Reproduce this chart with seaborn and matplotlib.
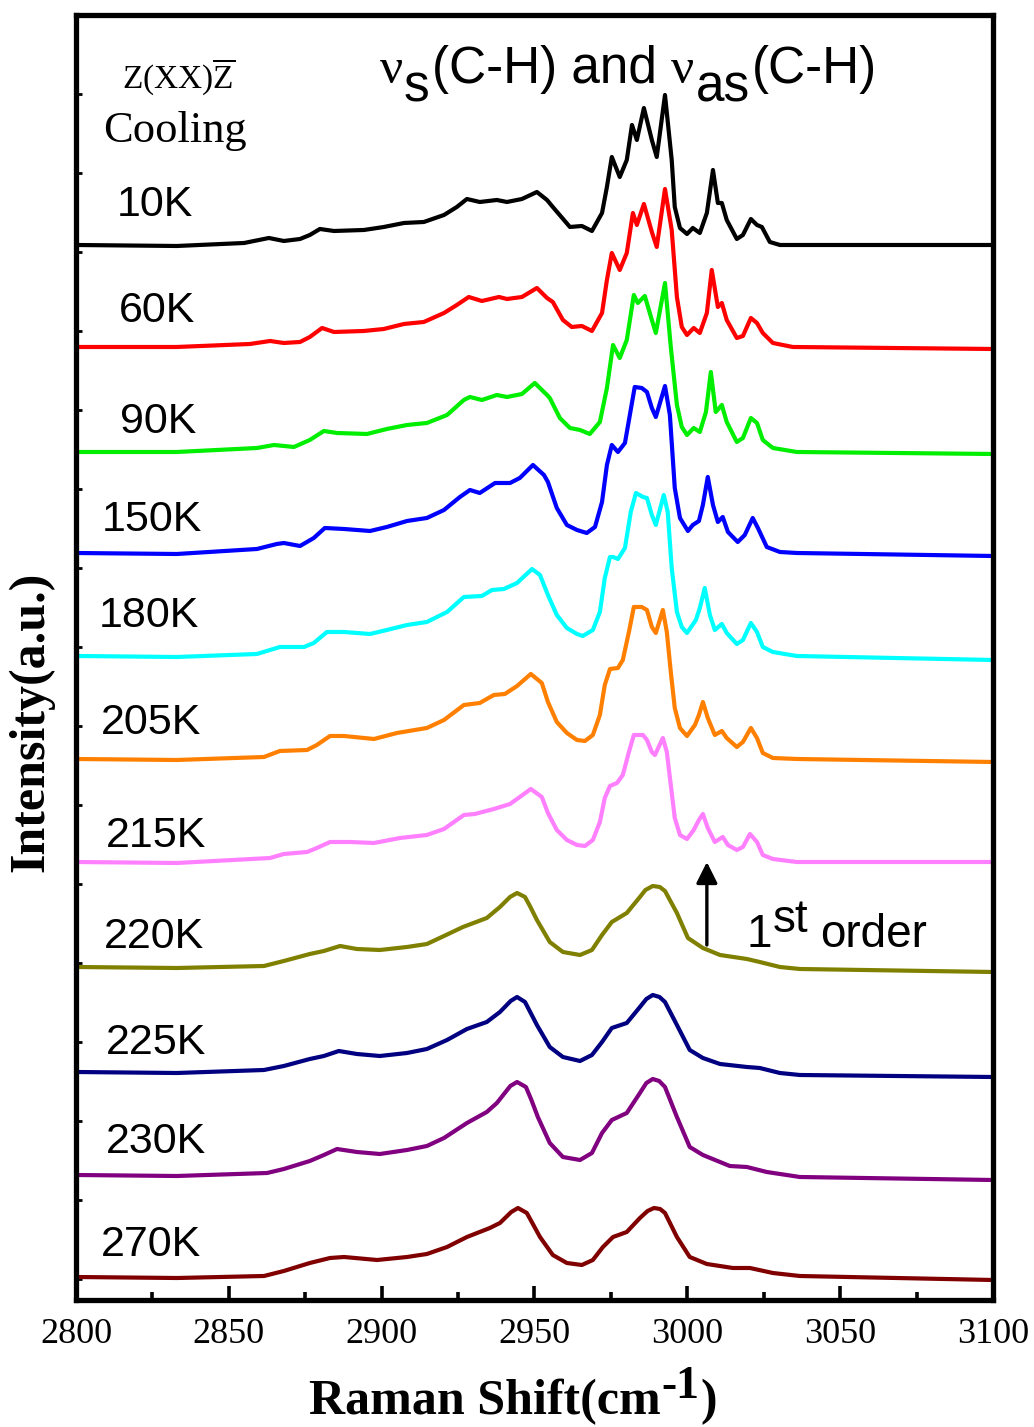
import matplotlib
matplotlib.use("Agg")
import matplotlib.pyplot as plt
import matplotlib.transforms as mtransforms
from matplotlib.figure import Figure
from matplotlib.ticker import MultipleLocator
import numpy as np
import pandas as pd
import seaborn as sns

# ---------------------------------------------------------------- data
TEMPS = ["10K", "60K", "90K", "150K", "180K", "205K", "215K",
         "220K", "225K", "230K", "270K"]
COLORS = ["#000000", "#ff0000", "#00ee00", "#0000ff", "#00ffff", "#ff8000",
          "#ff80ff", "#808000", "#000080", "#800080", "#800000"]
# vertical offsets used to stack the spectra (a.u.)
OFFSETS = [10.57, 9.53, 8.48, 7.47, 6.44, 5.41, 4.38, 3.33, 2.28, 1.25, 0.23]

SHIFT_10K = [2800, 2833, 2855, 2863.1, 2868.0, 2873.3, 2876.5, 2879.8, 2884.4, 2894.2,
             2900.7, 2907.3, 2913.8, 2920.4, 2924.6, 2927.9, 2932.1, 2937.7, 2941.0, 2945.9,
             2950.8, 2954.1, 2956.0, 2961.6, 2965.5, 2968.8, 2972.1, 2973.7, 2975.3, 2977.9,
             2980.2, 2981.9, 2983.5, 2985.8, 2988.4, 2990.0, 2992.7, 2994.9, 2995.9, 2997.6,
             2999.9, 3001.8, 3004.1, 3006.4, 3008.4, 3010.0, 3011.3, 3012.9, 3016.2, 3018.2,
             3020.8, 3022.8, 3024.4, 3027.0, 3030.3, 3060, 3100]
INT_10K = [-0.02, -0.03, 0.00, 0.05, 0.02, 0.04, 0.08, 0.14, 0.12, 0.13,
           0.16, 0.20, 0.21, 0.28, 0.36, 0.44, 0.41, 0.43, 0.41, 0.44,
           0.51, 0.43, 0.36, 0.16, 0.17, 0.12, 0.30, 0.56, 0.86, 0.66,
           0.83, 1.18, 1.03, 1.35, 1.03, 0.86, 1.48, 0.83, 0.36, 0.15,
           0.09, 0.15, 0.10, 0.30, 0.73, 0.40, 0.40, 0.23, 0.04, 0.08,
           0.24, 0.18, 0.16, 0.01, -0.02, -0.02, -0.02]

SHIFT_60K = [2800, 2833, 2856.9, 2863.5, 2868.0, 2873.3, 2876.5, 2880.5, 2884.4, 2894.2,
             2900.7, 2907.3, 2913.8, 2920.4, 2924.6, 2928.5, 2932.8, 2938.4, 2941.0, 2945.9,
             2950.8, 2954.1, 2956.0, 2959.3, 2962.2, 2965.5, 2968.8, 2972.1, 2973.7, 2975.3,
             2977.9, 2980.2, 2982.2, 2983.5, 2985.8, 2988.4, 2990.0, 2992.7, 2994.9, 2996.6,
             2998.2, 2999.9, 3002.1, 3004.1, 3006.4, 3008.0, 3010.0, 3011.3, 3012.9, 3016.2,
             3018.2, 3020.8, 3022.8, 3024.7, 3028.0, 3034.5, 3100]
INT_60K = [0.00, 0.00, 0.03, 0.06, 0.04, 0.05, 0.10, 0.19, 0.15, 0.16,
           0.18, 0.23, 0.25, 0.34, 0.42, 0.50, 0.46, 0.50, 0.48, 0.50,
           0.59, 0.49, 0.45, 0.27, 0.20, 0.21, 0.16, 0.34, 0.67, 0.94,
           0.77, 0.94, 1.34, 1.22, 1.43, 1.15, 1.00, 1.58, 1.17, 0.50,
           0.20, 0.12, 0.19, 0.14, 0.34, 0.77, 0.40, 0.44, 0.27, 0.09,
           0.11, 0.29, 0.24, 0.14, 0.04, 0.00, -0.02]

SHIFT_90K = [2800, 2833, 2859.2, 2864.8, 2871.3, 2876.5, 2881.1, 2885.4, 2895.2, 2901.7,
             2908.3, 2914.8, 2921.4, 2926.9, 2928.9, 2932.8, 2937.7, 2941.0, 2945.9, 2950.1,
             2954.1, 2955.0, 2958.3, 2961.6, 2964.9, 2968.1, 2971.4, 2973.7, 2975.7, 2977.9,
             2980.2, 2982.5, 2983.8, 2986.1, 2988.4, 2989.7, 2992.7, 2994.6, 2996.6, 2998.2,
             2999.9, 3002.1, 3004.1, 3006.1, 3007.7, 3009.3, 3011.3, 3012.9, 3016.2, 3018.2,
             3020.8, 3022.8, 3024.7, 3028.0, 3035.8, 3100]
INT_90K = [0.00, 0.00, 0.04, 0.07, 0.05, 0.12, 0.21, 0.19, 0.18, 0.23,
           0.27, 0.29, 0.37, 0.52, 0.55, 0.52, 0.57, 0.55, 0.58, 0.69,
           0.57, 0.54, 0.34, 0.24, 0.22, 0.18, 0.30, 0.64, 1.07, 0.94,
           1.12, 1.57, 1.49, 1.56, 1.32, 1.19, 1.69, 1.05, 0.47, 0.25,
           0.17, 0.24, 0.20, 0.40, 0.80, 0.40, 0.47, 0.30, 0.10, 0.14,
           0.34, 0.29, 0.12, 0.04, 0.00, -0.02]

SHIFT_150K = [2800, 2833, 2859.2, 2865.7, 2868.0, 2873.3, 2877.8, 2881.4, 2887.7, 2896.2,
              2901.7, 2908.3, 2914.8, 2920.4, 2925.6, 2928.9, 2932.1, 2937.1, 2942.0, 2945.2,
              2949.5, 2953.1, 2954.4, 2957.3, 2960.6, 2963.9, 2967.1, 2969.8, 2972.1, 2973.7,
              2975.3, 2977.3, 2979.6, 2981.2, 2982.8, 2985.1, 2986.8, 2988.4, 2989.7, 2992.7,
              2994.3, 2995.9, 2997.6, 3000.2, 3001.8, 3003.8, 3005.1, 3006.7, 3008.4, 3010.0,
              3011.6, 3013.3, 3016.5, 3018.8, 3021.4, 3023.1, 3026.0, 3030.3, 3035.8, 3100]
INT_150K = [0.00, -0.01, 0.04, 0.09, 0.10, 0.07, 0.15, 0.25, 0.24, 0.22,
            0.26, 0.32, 0.35, 0.43, 0.56, 0.63, 0.60, 0.70, 0.70, 0.75,
            0.88, 0.78, 0.71, 0.45, 0.28, 0.23, 0.20, 0.26, 0.51, 0.88,
            1.08, 1.01, 1.10, 1.38, 1.66, 1.65, 1.61, 1.45, 1.36, 1.67,
            1.38, 0.65, 0.35, 0.22, 0.28, 0.32, 0.48, 0.76, 0.48, 0.31,
            0.36, 0.21, 0.11, 0.18, 0.35, 0.25, 0.06, 0.01, 0.00, -0.03]

SHIFT_180K = [2800, 2833, 2859.2, 2866.7, 2874.6, 2877.8, 2882.1, 2887.7, 2896.2, 2901.7,
              2908.3, 2914.8, 2921.4, 2926.9, 2932.8, 2936.1, 2940.0, 2944.3, 2949.2, 2951.8,
              2954.4, 2957.3, 2960.6, 2963.9, 2965.8, 2969.1, 2971.4, 2973.0, 2974.7, 2975.7,
              2977.3, 2979.6, 2981.5, 2983.2, 2985.5, 2986.8, 2988.4, 2989.7, 2992.3, 2993.6,
              2994.9, 2996.6, 2998.2, 2999.9, 3002.8, 3004.1, 3005.7, 3007.4, 3009.0, 3011.3,
              3012.9, 3016.2, 3018.2, 3020.8, 3022.8, 3024.7, 3028.0, 3035.8, 3100]
INT_180K = [0.00, -0.01, 0.02, 0.09, 0.09, 0.13, 0.24, 0.24, 0.22, 0.26,
            0.31, 0.34, 0.44, 0.59, 0.60, 0.66, 0.67, 0.73, 0.87, 0.81,
            0.61, 0.41, 0.28, 0.22, 0.20, 0.26, 0.44, 0.78, 0.99, 0.99,
            0.97, 1.08, 1.44, 1.63, 1.59, 1.58, 1.41, 1.31, 1.61, 1.44,
            0.88, 0.44, 0.29, 0.23, 0.36, 0.48, 0.68, 0.41, 0.26, 0.32,
            0.23, 0.12, 0.16, 0.33, 0.24, 0.09, 0.04, 0.00, -0.04]

SHIFT_205K = [2800, 2833, 2861.5, 2866.7, 2875.6, 2878.8, 2883.1, 2887.7, 2897.5, 2905.0,
              2914.8, 2920.4, 2926.9, 2932.1, 2936.7, 2940.3, 2944.3, 2948.8, 2952.4, 2954.4,
              2957.3, 2960.6, 2963.9, 2966.5, 2969.1, 2971.4, 2973.0, 2974.7, 2977.3, 2978.9,
              2980.9, 2982.5, 2985.1, 2986.8, 2988.4, 2989.7, 2992.0, 2993.3, 2994.6, 2995.9,
              2997.6, 2999.9, 3002.5, 3003.8, 3005.1, 3006.7, 3009.0, 3011.3, 3012.9, 3016.2,
              3018.2, 3020.8, 3022.8, 3024.7, 3028.0, 3035.8, 3100]
INT_205K = [0.00, -0.01, 0.02, 0.08, 0.09, 0.14, 0.23, 0.23, 0.20, 0.26,
            0.31, 0.39, 0.54, 0.56, 0.64, 0.65, 0.73, 0.85, 0.76, 0.57,
            0.37, 0.26, 0.19, 0.18, 0.24, 0.44, 0.74, 0.90, 0.91, 0.99,
            1.27, 1.52, 1.52, 1.49, 1.32, 1.26, 1.49, 1.27, 0.87, 0.51,
            0.31, 0.23, 0.34, 0.44, 0.57, 0.41, 0.24, 0.28, 0.21, 0.12,
            0.17, 0.31, 0.21, 0.06, 0.01, 0.00, -0.03]

SHIFT_215K = [2800, 2833, 2863.5, 2868.0, 2875.6, 2878.8, 2883.1, 2889.6, 2897.5, 2906.0,
              2914.8, 2920.4, 2926.9, 2930.5, 2936.7, 2942.0, 2945.2, 2948.8, 2952.4, 2954.4,
              2957.3, 2960.6, 2963.9, 2966.5, 2969.1, 2971.4, 2973.0, 2974.7, 2977.0, 2978.9,
              2980.9, 2982.5, 2985.5, 2986.8, 2988.4, 2989.4, 2992.0, 2993.3, 2994.6, 2995.9,
              2997.6, 2999.9, 3002.1, 3003.8, 3005.1, 3006.7, 3009.0, 3011.6, 3013.3, 3016.2,
              3018.2, 3020.5, 3022.8, 3024.7, 3028.0, 3035.8, 3100]
INT_215K = [0.00, -0.01, 0.04, 0.08, 0.10, 0.14, 0.20, 0.20, 0.19, 0.24,
            0.27, 0.33, 0.47, 0.48, 0.53, 0.58, 0.65, 0.73, 0.65, 0.49,
            0.32, 0.22, 0.17, 0.16, 0.22, 0.40, 0.64, 0.76, 0.79, 0.87,
            1.10, 1.27, 1.27, 1.22, 1.10, 1.07, 1.24, 1.10, 0.77, 0.44,
            0.27, 0.23, 0.32, 0.42, 0.48, 0.34, 0.20, 0.25, 0.17, 0.12,
            0.15, 0.28, 0.20, 0.07, 0.03, 0.00, 0.00]

SHIFT_220K = [2800, 2833, 2861.5, 2868.0, 2876.5, 2881.1, 2886.4, 2891.9, 2899.4, 2908.3,
              2914.8, 2920.4, 2926.6, 2934.4, 2938.7, 2942.0, 2944.3, 2946.9, 2948.5, 2950.8,
              2955.0, 2959.3, 2964.9, 2968.8, 2972.1, 2975.3, 2980.2, 2984.5, 2986.3, 2988.7,
              2991.0, 2992.7, 2996.6, 3000.2, 3005.1, 3010.7, 3019.5, 3023.7, 3030.3, 3036.8,
              3100]
INT_220K = [0.00, -0.01, 0.01, 0.06, 0.13, 0.16, 0.21, 0.18, 0.17, 0.20,
            0.23, 0.31, 0.40, 0.49, 0.60, 0.70, 0.74, 0.70, 0.61, 0.47,
            0.25, 0.15, 0.12, 0.17, 0.32, 0.45, 0.54, 0.70, 0.77, 0.81,
            0.80, 0.76, 0.54, 0.29, 0.19, 0.12, 0.08, 0.05, 0.00, -0.02,
            -0.05]

SHIFT_225K = [2800, 2833, 2861.5, 2868.0, 2876.5, 2881.1, 2886.0, 2891.9, 2899.4, 2908.3,
              2914.8, 2921.4, 2927.9, 2934.4, 2938.7, 2942.2, 2944.3, 2946.9, 2948.6, 2950.8,
              2955.0, 2959.3, 2964.9, 2968.8, 2972.1, 2975.3, 2980.2, 2984.5, 2986.6, 2988.7,
              2990.9, 2992.7, 2996.6, 3000.8, 3005.1, 3010.7, 3019.5, 3023.7, 3030.3, 3036.8,
              3100]
INT_225K = [0.00, -0.01, 0.02, 0.06, 0.13, 0.16, 0.21, 0.18, 0.16, 0.19,
            0.23, 0.32, 0.43, 0.50, 0.60, 0.71, 0.75, 0.70, 0.60, 0.47,
            0.25, 0.15, 0.11, 0.17, 0.30, 0.44, 0.49, 0.65, 0.73, 0.77,
            0.75, 0.70, 0.47, 0.22, 0.14, 0.08, 0.05, 0.04, -0.01, -0.03,
            -0.05]

SHIFT_230K = [2800, 2833, 2862.5, 2868.0, 2876.5, 2881.1, 2885.4, 2891.9, 2899.4, 2908.3,
              2914.8, 2920.4, 2927.9, 2934.4, 2937.7, 2942.1, 2944.3, 2947.2, 2949.0, 2951.1,
              2955.0, 2959.3, 2964.9, 2968.8, 2972.1, 2975.3, 2980.2, 2984.5, 2986.6, 2988.7,
              2990.8, 2992.7, 2996.6, 3000.8, 3005.1, 3013.9, 3019.5, 3026.0, 3036.8, 3100]
INT_230K = [0.00, -0.01, 0.02, 0.06, 0.14, 0.20, 0.26, 0.23, 0.21, 0.25,
            0.29, 0.37, 0.52, 0.63, 0.72, 0.89, 0.93, 0.88, 0.75, 0.58,
            0.32, 0.18, 0.15, 0.22, 0.42, 0.55, 0.62, 0.82, 0.92, 0.96,
            0.94, 0.88, 0.58, 0.28, 0.20, 0.09, 0.08, 0.03, -0.02, -0.05]

SHIFT_270K = [2800, 2833, 2861.5, 2868.0, 2876.5, 2883.1, 2887.7, 2898.5, 2908.3, 2914.8,
              2921.4, 2927.9, 2935.4, 2938.7, 2942.4, 2944.6, 2947.5, 2949.3, 2951.8, 2956.0,
              2960.6, 2965.5, 2969.1, 2972.4, 2975.7, 2980.2, 2984.5, 2987.0, 2989.1, 2991.1,
              2992.7, 2996.6, 3000.8, 3006.4, 3014.9, 3020.5, 3028.0, 3036.8, 3100]
INT_270K = [0.00, -0.01, 0.01, 0.06, 0.14, 0.19, 0.20, 0.17, 0.20, 0.23,
            0.30, 0.40, 0.49, 0.54, 0.65, 0.69, 0.64, 0.54, 0.40, 0.22,
            0.14, 0.12, 0.17, 0.30, 0.40, 0.45, 0.59, 0.66, 0.69, 0.68,
            0.64, 0.40, 0.20, 0.13, 0.09, 0.09, 0.04, 0.01, -0.03]

XTICKS = [2800, 2850, 2900, 2950, 3000, 3050, 3100]

SPECTRA = {
    "10K": (SHIFT_10K, INT_10K), "60K": (SHIFT_60K, INT_60K),
    "90K": (SHIFT_90K, INT_90K), "150K": (SHIFT_150K, INT_150K),
    "180K": (SHIFT_180K, INT_180K), "205K": (SHIFT_205K, INT_205K),
    "215K": (SHIFT_215K, INT_215K), "220K": (SHIFT_220K, INT_220K),
    "225K": (SHIFT_225K, INT_225K), "230K": (SHIFT_230K, INT_230K),
    "270K": (SHIFT_270K, INT_270K),
}

frames = []
for temp, off in zip(TEMPS, OFFSETS):
    s, i = SPECTRA[temp]
    f = pd.DataFrame({"shift": s, "intensity": i})
    f["y"] = f["intensity"] + off
    f["T"] = temp
    frames.append(f)
df = pd.concat(frames, ignore_index=True)

# ---------------------------------------------------------------- style
sns.set_theme(style="white")
SERIF = ["Liberation Serif", "DejaVu Serif"]
SANS = ["Liberation Sans", "DejaVu Sans"]
plt.rcParams["font.family"] = SERIF
plt.rcParams["mathtext.fontset"] = "custom"
plt.rcParams["mathtext.rm"] = "Liberation Serif"
plt.rcParams["axes.unicode_minus"] = False
plt.rcParams["text.color"] = "black"
plt.rcParams["axes.labelcolor"] = "black"
plt.rcParams["xtick.color"] = "black"
plt.rcParams["ytick.color"] = "black"

fig = plt.figure(figsize=(10.34, 14.27), dpi=100)
ax = fig.add_axes([0.0735, 0.0890, 0.8868, 0.9005])

sns.lineplot(data=df, x="shift", y="y", hue="T", hue_order=TEMPS,
             palette=dict(zip(TEMPS, COLORS)), estimator=None, sort=False,
             legend=False, linewidth=3.0, ax=ax,
             solid_joinstyle="round", solid_capstyle="round")

ax.set_xlim(2800, 3100)
ax.set_ylim(0, 12.85)
ax.set_xlabel("")
ax.set_ylabel("")
ax.set_xticks(XTICKS)
ax.set_xticklabels([str(t) for t in XTICKS])
ax.xaxis.set_minor_locator(MultipleLocator(25))
ax.yaxis.set_major_locator(MultipleLocator(0.79, offset=0.21))
ax.set_yticklabels([])
ax.tick_params(axis="x", which="major", direction="in", length=10, width=2.6,
               labelsize=26, pad=13, colors="black", bottom=True, top=False)
ax.tick_params(axis="x", which="minor", direction="in", length=6, width=2.6,
               bottom=True, top=False)
ax.tick_params(axis="y", which="major", direction="in", length=4, width=2,
               left=True, right=False, labelleft=False)
for lab in ax.get_xticklabels():
    lab.set_fontfamily(SERIF)
    lab.set_color("black")
for sp in ax.spines.values():
    sp.set_visible(True)
    sp.set_linewidth(3.8)
    sp.set_color("black")


def draw_runs(host, x, y, runs, transform, ha="left", **common):
    """Lay out text runs side by side; each run is (text, rise_px, size, family, gap_px)."""
    fig_ = host if isinstance(host, Figure) else host.figure
    renderer = fig_.canvas.get_renderer()
    placed = []
    cursor = 0.0
    for text, rise, size, family, gap in runs:
        cursor += gap
        t = host.text(x, y, text, transform=transform, fontsize=size,
                      family=family, va="baseline", ha="left", color="black",
                      **common)
        w = t.get_window_extent(renderer).width
        placed.append((t, cursor, rise))
        cursor += w
    shift = -cursor / 2 if ha == "center" else 0.0
    for t, dx, rise in placed:
        t.set_transform(mtransforms.offset_copy(transform, fig=fig_, x=dx + shift,
                                                y=rise, units="dots"))


# temperature labels
LABEL_POS = [(2813.4, 10.84), (2814.1, 9.78), (2814.4, 8.67), (2808.5, 7.69),
             (2807.5, 6.73), (2808.2, 5.66), (2809.8, 4.53), (2809.2, 3.52),
             (2809.8, 2.46), (2809.8, 1.47), (2808.2, 0.44)]
for temp, (lx, ly) in zip(TEMPS, LABEL_POS):
    ax.text(lx, ly, temp, fontsize=31, family=SANS, va="baseline", ha="left",
            color="black")

# scattering geometry and protocol
ax.text(2815.0, 12.12, r"Z(XX)$\overline{\mathrm{Z}}$", fontsize=24,
        family=SERIF, va="baseline", ha="left", color="black")
ax.text(2808.8, 11.58, "Cooling", fontsize=32, family=SERIF,
        va="baseline", ha="left", color="black")

# band assignment
draw_runs(ax, 2899.4, 12.17, [
    ("\u03bd", 0, 37, SERIF, 0),
    ("s", -19, 37, SANS, 1),
    ("(C-H) and", 0, 37, SANS, 2),
    ("\u03bd", 0, 37, SERIF, 14),
    ("as", -19, 37, SANS, 2),
    ("(C-H)", 0, 37, SANS, 2),
], ax.transData)

# first-order transition marker
ax.annotate("", xy=(3006.4, 4.38), xytext=(3006.4, 3.55),
            arrowprops=dict(arrowstyle="-|>", lw=2.4, color="black",
                            mutation_scale=32, shrinkA=0, shrinkB=0))
draw_runs(ax, 3019.5, 3.53, [
    ("1", 0, 33, SANS, 0),
    ("st", 15, 33, SANS, 0),
    ("order", 0, 33, SANS, 12),
], ax.transData)

# axis titles
draw_runs(fig, 513 / 1034, 1 - 1414 / 1427, [
    ("Raman Shift(cm", 0, 36, SERIF, 0),
    ("-1", 16, 33, SERIF, 1),
    (")", 0, 36, SERIF, 1),
], fig.transFigure, ha="center", fontweight="bold")
fig.text(31 / 1034, 1 - 722 / 1427, "Intensity(a.u.)", rotation=90,
         ha="center", va="center", fontsize=36, fontweight="bold",
         family=SERIF, color="black")

fig.savefig("out.png", dpi=100)
